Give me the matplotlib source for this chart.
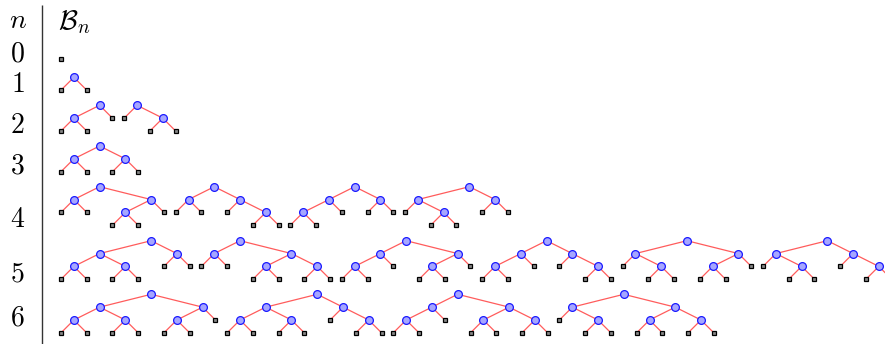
"""
AVL tree shapes B_n for n = 0..6, drawn row by row like a small table.
"""
import matplotlib
matplotlib.use("Agg")
import matplotlib.pyplot as plt

plt.rcParams['mathtext.fontset'] = 'cm'

# trees as nested tuples, 0 = leaf
L = 0
P3 = ((L, L), (L, L))          # perfect tree with 3 nodes
A2 = ((L, L), L)
B2 = (L, (L, L))

row_labels = ["0", "1", "2", "3", "4", "5", "6"]
trees_by_row = [
    [L],
    [(L, L)],
    [A2, B2],
    [P3],
    [((L, L), A2), ((L, L), B2), (A2, (L, L)), (B2, (L, L))],
    [(P3, (L, L)), ((L, L), P3), (A2, A2), (A2, B2), (B2, A2), (B2, B2)],
    [(P3, A2), (P3, B2), (A2, P3), (B2, P3)],
]

# layout (pixels)
W, H = 885, 344
UNIT = 12.87        # horizontal step between in-order positions
LEVEL = 12.85       # vertical step per depth level
GAP = 11.7          # from last leaf of a tree to first leaf of the next
X0 = 61
row_root_y = [59, 77.3, 105.3, 146, 186.7, 240.7, 294.3]
label_base_y = [61, 92, 133.3, 173.5, 227, 281, 325]
FS = 20

EDGE_C = "#ff5c5c"
NODE_FACE = "#a6a6ff"
NODE_EDGE = "#1a1aff"


def layout(tree, depth=0, counter=None, out=None):
    """In-order x index and depth for every node; returns (idx, out)."""
    if counter is None:
        counter = [0]
        out = []
    if tree == 0:
        i = counter[0]
        counter[0] += 1
        out.append(("leaf", i, depth, None, None))
        return i, out
    li, _ = layout(tree[0], depth + 1, counter, out)
    i = counter[0]
    counter[0] += 1
    ri, _ = layout(tree[1], depth + 1, counter, out)
    out.append(("node", i, depth, li, ri))
    return i, out


fig = plt.figure(figsize=(W / 100, H / 100), dpi=100)
ax = fig.add_axes([0, 0, 1, 1])
ax.set_xlim(0, W)
ax.set_ylim(H, 0)
ax.axis("off")

# header and rule
ax.text(18, 28, "$n$", fontsize=FS, ha="center", va="baseline")
ax.text(58, 29, r"$\mathcal{B}_n$", fontsize=FS, ha="left", va="baseline")
ax.plot([42.3, 42.3], [5, H], color="#333333", lw=1.0, solid_capstyle="butt")

for r, trees in enumerate(trees_by_row):
    ax.text(17.5, label_base_y[r], "$" + row_labels[r] + "$", fontsize=FS,
            ha="center", va="baseline")
    x_start = X0
    for t in trees:
        _, nodes = layout(t)
        pos = {}
        for kind, i, d, li, ri in nodes:
            pos[i] = (x_start + i * UNIT, row_root_y[r] + d * LEVEL)
        for kind, i, d, li, ri in nodes:
            if kind == "node":
                for c in (li, ri):
                    ax.plot([pos[i][0], pos[c][0]], [pos[i][1], pos[c][1]],
                            color=EDGE_C, lw=0.9, zorder=1)
        for kind, i, d, li, ri in nodes:
            x, y = pos[i]
            if kind == "node":
                ax.plot(x, y, "o", ms=5.6, mfc=NODE_FACE, mec=NODE_EDGE,
                        mew=0.9, zorder=3)
            else:
                ax.plot(x, y, "s", ms=2.4, mfc="#888888", mec="black",
                        mew=0.9, zorder=3)
        n_pos = len(nodes)
        x_start = x_start + (n_pos - 1) * UNIT + GAP

fig.savefig("out.png", dpi=100)
